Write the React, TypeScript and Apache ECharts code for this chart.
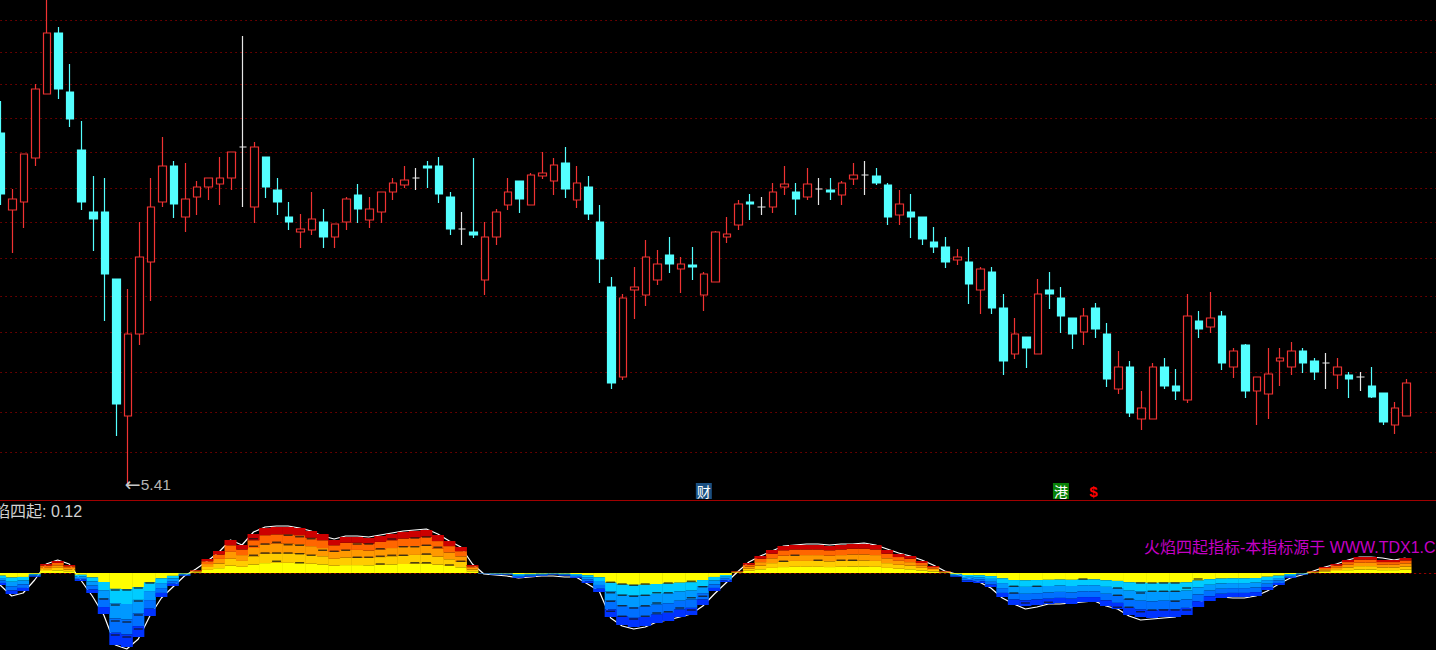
import React, { useEffect, useRef } from "react";
import * as echarts from "echarts";

const opens = [
  7.165,6.78,6.82,7.04,7.36,7.665,7.37,7.08,6.77,6.77,
  6.435,5.75,6.16,6.52,6.82,7.0,6.745,6.845,6.895,6.91,
  6.94,7.095,6.795,7.045,6.88,6.745,6.67,6.68,6.72,6.645,
  6.72,6.855,6.73,6.77,6.87,6.905,6.94,7.0,7.0,6.845,
  6.685,6.67,6.43,6.645,6.805,6.925,6.805,6.95,6.925,7.015,
  6.83,6.895,6.72,6.395,5.945,6.38,6.355,6.43,6.555,6.485,
  6.505,6.355,6.42,6.645,6.705,6.82,6.795,6.795,6.895,6.87,
  6.845,6.885,6.88,6.855,6.935,6.955,6.95,6.905,6.755,6.77,
  6.745,6.62,6.595,6.53,6.52,6.38,6.47,6.29,6.06,6.145,
  6.06,6.38,6.34,6.24,6.17,6.29,6.16,5.885,5.995,5.735,
  5.735,5.995,5.9,5.83,6.225,6.195,6.25,5.995,6.105,5.875,
  5.86,6.025,5.995,6.075,6.025,6.015,5.955,5.955,5.945,5.9,
  5.865,5.705,5.75,
];
const closes = [
  6.86,6.835,7.06,7.385,7.665,7.385,7.235,6.82,6.735,6.46,
  5.81,6.16,6.545,6.795,7.0,6.81,6.835,6.895,6.94,6.94,
  7.07,7.095,7.095,6.895,6.82,6.72,6.685,6.735,6.645,6.71,
  6.835,6.785,6.785,6.87,6.915,6.93,6.94,6.99,6.86,6.685,
  6.685,6.655,6.645,6.77,6.87,6.835,6.955,6.965,7.005,6.885,
  6.915,6.76,6.535,5.915,6.34,6.395,6.545,6.51,6.51,6.51,
  6.495,6.46,6.67,6.66,6.81,6.81,6.795,6.87,6.91,6.835,
  6.91,6.885,6.87,6.915,6.955,6.955,6.915,6.745,6.81,6.745,
  6.635,6.595,6.52,6.545,6.41,6.485,6.29,6.025,6.16,6.09,
  6.36,6.36,6.25,6.16,6.25,6.185,5.935,5.995,5.765,5.79,
  5.995,5.9,5.875,6.25,6.185,6.24,6.015,6.075,5.875,5.945,
  5.96,6.04,6.075,6.015,5.97,6.015,5.995,5.935,5.945,5.845,
  5.72,5.79,5.915,
];
const lows = [
  6.805,6.565,6.69,7.0,7.36,7.335,7.195,6.78,6.575,6.225,
  5.65,5.41,6.105,6.325,6.795,6.74,6.67,6.755,6.83,6.805,
  6.88,6.795,6.715,6.84,6.755,6.68,6.59,6.655,6.59,6.59,
  6.68,6.715,6.69,6.715,6.83,6.89,6.88,6.89,6.815,6.655,
  6.605,6.64,6.355,6.605,6.78,6.765,6.805,6.935,6.855,6.84,
  6.79,6.73,6.415,5.885,5.93,6.235,6.3,6.405,6.465,6.365,
  6.43,6.275,6.42,6.615,6.68,6.73,6.755,6.765,6.855,6.755,
  6.83,6.805,6.83,6.805,6.905,6.855,6.905,6.705,6.705,6.64,
  6.605,6.565,6.49,6.505,6.31,6.26,6.26,5.955,6.035,5.99,
  6.06,6.285,6.165,6.085,6.105,6.14,5.895,5.86,5.745,5.68,
  5.735,5.885,5.83,5.815,6.14,6.165,5.98,5.94,5.84,5.705,
  5.735,5.9,5.955,5.965,5.93,5.885,5.885,5.84,5.875,5.84,
  5.705,5.66,5.75,
];
const highs = [
  7.325,6.885,7.06,7.41,7.83,7.695,7.51,7.225,6.95,6.94,
  6.435,6.385,6.72,6.94,7.145,7.025,7.015,6.925,6.94,7.045,
  7.07,7.65,7.12,7.045,6.94,6.82,6.76,6.87,6.785,6.71,
  6.845,6.91,6.845,6.87,6.94,7.0,6.99,7.025,7.045,6.87,
  6.77,7.04,6.72,6.785,6.94,6.925,6.965,7.07,7.04,7.095,
  7.0,6.95,6.805,6.445,6.36,6.495,6.63,6.58,6.645,6.545,
  6.595,6.47,6.675,6.745,6.83,6.86,6.845,6.915,7.0,6.915,
  6.99,6.94,6.94,6.925,7.015,7.025,6.99,6.915,6.88,6.86,
  6.745,6.695,6.645,6.585,6.595,6.495,6.495,6.36,6.24,6.145,
  6.435,6.47,6.395,6.24,6.29,6.315,6.215,6.075,6.025,5.875,
  6.015,6.04,5.985,6.36,6.275,6.37,6.275,6.09,6.11,5.945,
  6.09,6.09,6.12,6.09,6.04,6.065,6.04,5.97,5.97,5.995,
  5.865,5.82,5.935,
];
const priceGridLevels = [7.7265,7.57,7.41,7.24,7.07,6.895,6.72,6.54,6.35,6.165,5.97,5.77,5.565];

const flameTotals = [
  -0.096,-0.168,-0.144,-0.032,0.072,0.096,0.064,-0.064,-0.16,-0.328,
  -0.576,-0.592,-0.512,-0.344,-0.192,-0.104,-0.024,0.024,0.112,0.176,
  0.264,0.224,0.312,0.36,0.368,0.368,0.36,0.336,0.312,0.264,
  0.288,0.288,0.28,0.296,0.312,0.328,0.336,0.344,0.304,0.256,
  0.208,0.064,-0.008,-0.016,-0.016,-0.04,-0.032,-0.024,-0.016,-0.024,
  -0.04,-0.08,-0.152,-0.352,-0.416,-0.432,-0.424,-0.4,-0.384,-0.352,
  -0.336,-0.256,-0.144,-0.072,0.016,0.08,0.136,0.184,0.216,0.224,
  0.224,0.224,0.216,0.224,0.232,0.232,0.224,0.184,0.152,0.136,
  0.096,0.056,0.016,-0.032,-0.072,-0.08,-0.112,-0.192,-0.256,-0.264,
  -0.256,-0.248,-0.24,-0.248,-0.232,-0.232,-0.264,-0.288,-0.336,-0.352,
  -0.36,-0.352,-0.352,-0.336,-0.272,-0.224,-0.2,-0.192,-0.192,-0.184,
  -0.136,-0.096,-0.04,-0.016,0.016,0.048,0.072,0.104,0.128,0.128,
  0.104,0.104,0.12,
];
const flameLine = [
  -0.096,-0.184,-0.16,-0.056,0.072,0.104,0.072,-0.056,-0.184,-0.336,
  -0.576,-0.608,-0.528,-0.344,-0.2,-0.112,-0.024,0.032,0.096,0.168,
  0.264,0.224,0.328,0.368,0.376,0.376,0.36,0.336,0.296,0.272,
  0.296,0.296,0.288,0.304,0.32,0.336,0.344,0.352,0.312,0.256,
  0.208,0.072,-0.008,-0.016,-0.024,-0.04,-0.032,-0.024,-0.024,-0.032,
  -0.032,-0.088,-0.144,-0.36,-0.424,-0.448,-0.432,-0.392,-0.376,-0.352,
  -0.328,-0.264,-0.168,-0.08,0.008,0.088,0.136,0.176,0.216,0.224,
  0.232,0.232,0.224,0.232,0.232,0.24,0.224,0.192,0.16,0.136,
  0.104,0.064,0.016,-0.008,-0.04,-0.072,-0.12,-0.2,-0.248,-0.288,
  -0.272,-0.248,-0.248,-0.24,-0.232,-0.224,-0.264,-0.288,-0.344,-0.376,
  -0.368,-0.36,-0.352,-0.296,-0.24,-0.2,-0.192,-0.2,-0.2,-0.184,
  -0.144,-0.088,-0.04,-0.016,0.016,0.048,0.072,0.104,0.128,0.128,
  0.12,0.104,0.12,
];
const upperShares = [0.22, 0.21, 0.21, 0.2, 0.16];
const lowerShares = [0.22, 0.2, 0.21, 0.2, 0.17];
const upperColors = ["#FFFF00", "#FFCC00", "#FF9900", "#FF6600", "#CC0000"];
const lowerColors = ["#FFFF00", "#00CCFF", "#0099FF", "#0070FF", "#0033FF"];

const dashColumns = [
  22,25,26,27,34,36,37,
  22,23,24,25,26,28,29,30,31,32,33,35,36,37,38,
  22,23,24,25,26,27,31,32,33,34,35,37,
  24,26,33,36,37,39,40,
  10,11,12,13,9,10,12,12,10,11,10,12,11,
  69,68,71,73,74,
  53,54,55,56,58,60,61,
  53,54,55,56,57,58,60,61,
  53,54,55,56,57,
  53,54,55,56,57,58,59,60,
  88,90,88,89,91,94,97,97,98,99,99,100,101,102,100,101,102,102,103,104,97,98,99,100,101,102,103,
];
const dashLevels = [
  0.274,0.302,0.29,0.274,0.272,0.28,0.288,
  0.214,0.232,0.246,0.226,0.222,0.182,0.174,0.182,0.232,0.232,0.194,0.21,0.21,0.222,0.206,
  0.142,0.16,0.16,0.16,0.154,0.142,0.126,0.126,0.134,0.142,0.142,0.152,
  0.094,0.082,0.072,0.082,0.082,0.064,0.094,
  -0.136,-0.136,-0.12,-0.08,-0.208,-0.256,-0.224,-0.336,-0.384,-0.392,-0.496,-0.448,-0.512,
  0.142,0.094,0.102,0.102,0.102,
  -0.074,-0.088,-0.098,-0.088,-0.08,-0.066,-0.11,
  -0.158,-0.178,-0.186,-0.178,-0.158,-0.158,-0.198,-0.186,
  -0.226,-0.262,-0.28,-0.262,-0.24,
  -0.306,-0.346,-0.368,-0.346,-0.32,-0.31,-0.28,-0.296,
  -0.106,-0.106,-0.16,-0.24,-0.234,-0.048,-0.12,-0.178,-0.208,-0.16,-0.08,-0.08,-0.08,-0.08,-0.146,-0.146,-0.146,-0.226,-0.12,-0.048,-0.274,-0.274,-0.31,-0.296,-0.296,-0.296,-0.296,
];

// three empty sessions on the right keep the rules running to the page edge
const sessions = [...opens, 0, 0, 0].map((_, i) => String(i));
const lowPrice = "5.41";
const indicatorTitle = "火焰四起: 0.12";
const promoText = "火焰四起指标-本指标源于 WWW.TDX1.COM";
const latin = '"Liberation Sans","Noto Sans CJK SC",sans-serif';

function flameSeries(shares: number[], colors: string[], keep: (v: number) => boolean) {
  return shares.map((share, k) => ({
    type: "bar",
    xAxisIndex: 1,
    yAxisIndex: 1,
    stack: "flame",
    barWidth: 12,
    z: 3,
    silent: true,
    itemStyle: { color: colors[k] },
    data: flameTotals.map((v) => (keep(v) ? v * share : 0)),
  }));
}

export default function App() {
  const ref = useRef<HTMLDivElement>(null);
  useEffect(() => {
    document.body.style.margin = "0";
    document.body.style.background = "#000";
    const chart = echarts.init(ref.current!, undefined, { renderer: "svg" });
    chart.setOption({
      animation: false,
      backgroundColor: "#000",
      grid: [
        { left: -4.66, top: 0, width: 1451.52, height: 500, outerBoundsMode: "none" },
        { left: -5.66, top: 501, width: 1451.52, height: 149, outerBoundsMode: "none" },
      ],
      xAxis: [
        {
          type: "category", gridIndex: 0, data: sessions, boundaryGap: true,
          axisLine: { show: true, onZero: false, lineStyle: { color: "#a00000", width: 1 } },
          axisTick: { show: false }, axisLabel: { show: false }, splitLine: { show: false },
        },
        {
          type: "category", gridIndex: 1, data: sessions, boundaryGap: true,
          axisLine: { show: true, onZero: true, lineStyle: { color: "#900000", width: 1, type: [1.5, 3.5] } },
          axisTick: { show: false }, axisLabel: { show: false }, splitLine: { show: false },
        },
      ],
      yAxis: [
        { type: "value", gridIndex: 0, min: 5.33, max: 7.83, show: false, splitLine: { show: false } },
        { type: "value", gridIndex: 1, min: -0.616, max: 0.576, show: false, splitLine: { show: false } },
      ],
      graphic: [
        { type: "text", x: -22, y: 503, z: 50, silent: true,
          style: { text: indicatorTitle, fill: "#d2d2d2", font: `16px ${latin}` } },
        { type: "text", x: 1144, y: 539, z: 50, silent: true,
          style: { text: promoText, fill: "#C400C4", font: `16px ${latin}` } },
      ],
      series: [
        {
          type: "candlestick",
          xAxisIndex: 0,
          yAxisIndex: 0,
          barWidth: 8,
          z: 3,
          silent: true,
          itemStyle: {
            color: "#000000",
            color0: "#54FFFF",
            borderColor: "#F03232",
            borderColor0: "#54FFFF",
            borderColorDoji: "#E6E6E6",
            borderWidth: 1.2,
          },
          data: opens.map((o, i) => [o, closes[i], lows[i], highs[i]]),
          markLine: {
            silent: true,
            symbol: "none",
            label: { show: false },
            z: 1,
            lineStyle: { color: "#800000", width: 1, type: [1.5, 3.5] },
            data: priceGridLevels.map((v) => ({ yAxis: v })),
          },
          markPoint: {
            silent: true,
            symbol: "rect",
            symbolSize: 0,
            z: 10,
            data: [
              {
                coord: [11, 5.41],
                label: {
                  show: true, formatter: `{a|←}{b|${lowPrice}}`, position: "right", distance: -3,
                  rich: {
                    a: { color: "#c8c8c8", fontSize: 19, fontFamily: '"DejaVu Sans"' },
                    b: { color: "#b4b4b4", fontSize: 15.5, fontFamily: latin },
                  },
                },
              },
              { coord: [61, 5.375], label: { show: true, formatter: "财", position: "inside", color: "#ffffff", fontSize: 14, fontFamily: '"Noto Sans CJK SC"', backgroundColor: "#1B4F80", padding: [1, 1] } },
              { coord: [92, 5.375], label: { show: true, formatter: "港", position: "inside", color: "#ffffff", fontSize: 14, fontFamily: '"Noto Sans CJK SC"', backgroundColor: "#078007", padding: [1, 1] } },
              { coord: [95, 5.375], label: { show: true, formatter: "$", position: "inside", offset: [-2, 0], color: "#ff0000", fontSize: 15, fontWeight: "bold", fontFamily: latin } },
            ],
          },
        },
        {
          type: "line",
          xAxisIndex: 1,
          yAxisIndex: 1,
          showSymbol: false,
          symbol: "none",
          z: 2,
          silent: true,
          lineStyle: { color: "#ffffff", width: 1.2 },
          data: flameLine,
        },
        ...flameSeries(upperShares, upperColors, (v) => v > 0),
        ...flameSeries(lowerShares, lowerColors, (v) => v < 0),
        {
          type: "scatter",
          xAxisIndex: 1,
          yAxisIndex: 1,
          symbol: "rect",
          symbolSize: [9, 1.4],
          z: 4,
          silent: true,
          itemStyle: { color: "#151515" },
          data: dashColumns.map((c, i) => [c, dashLevels[i]]),
        },
      ],
    });
    return () => chart.dispose();
  }, []);
  return <div ref={ref} style={{ position: "fixed", left: 0, top: 0, width: 1436, height: 650 }} />;
}
